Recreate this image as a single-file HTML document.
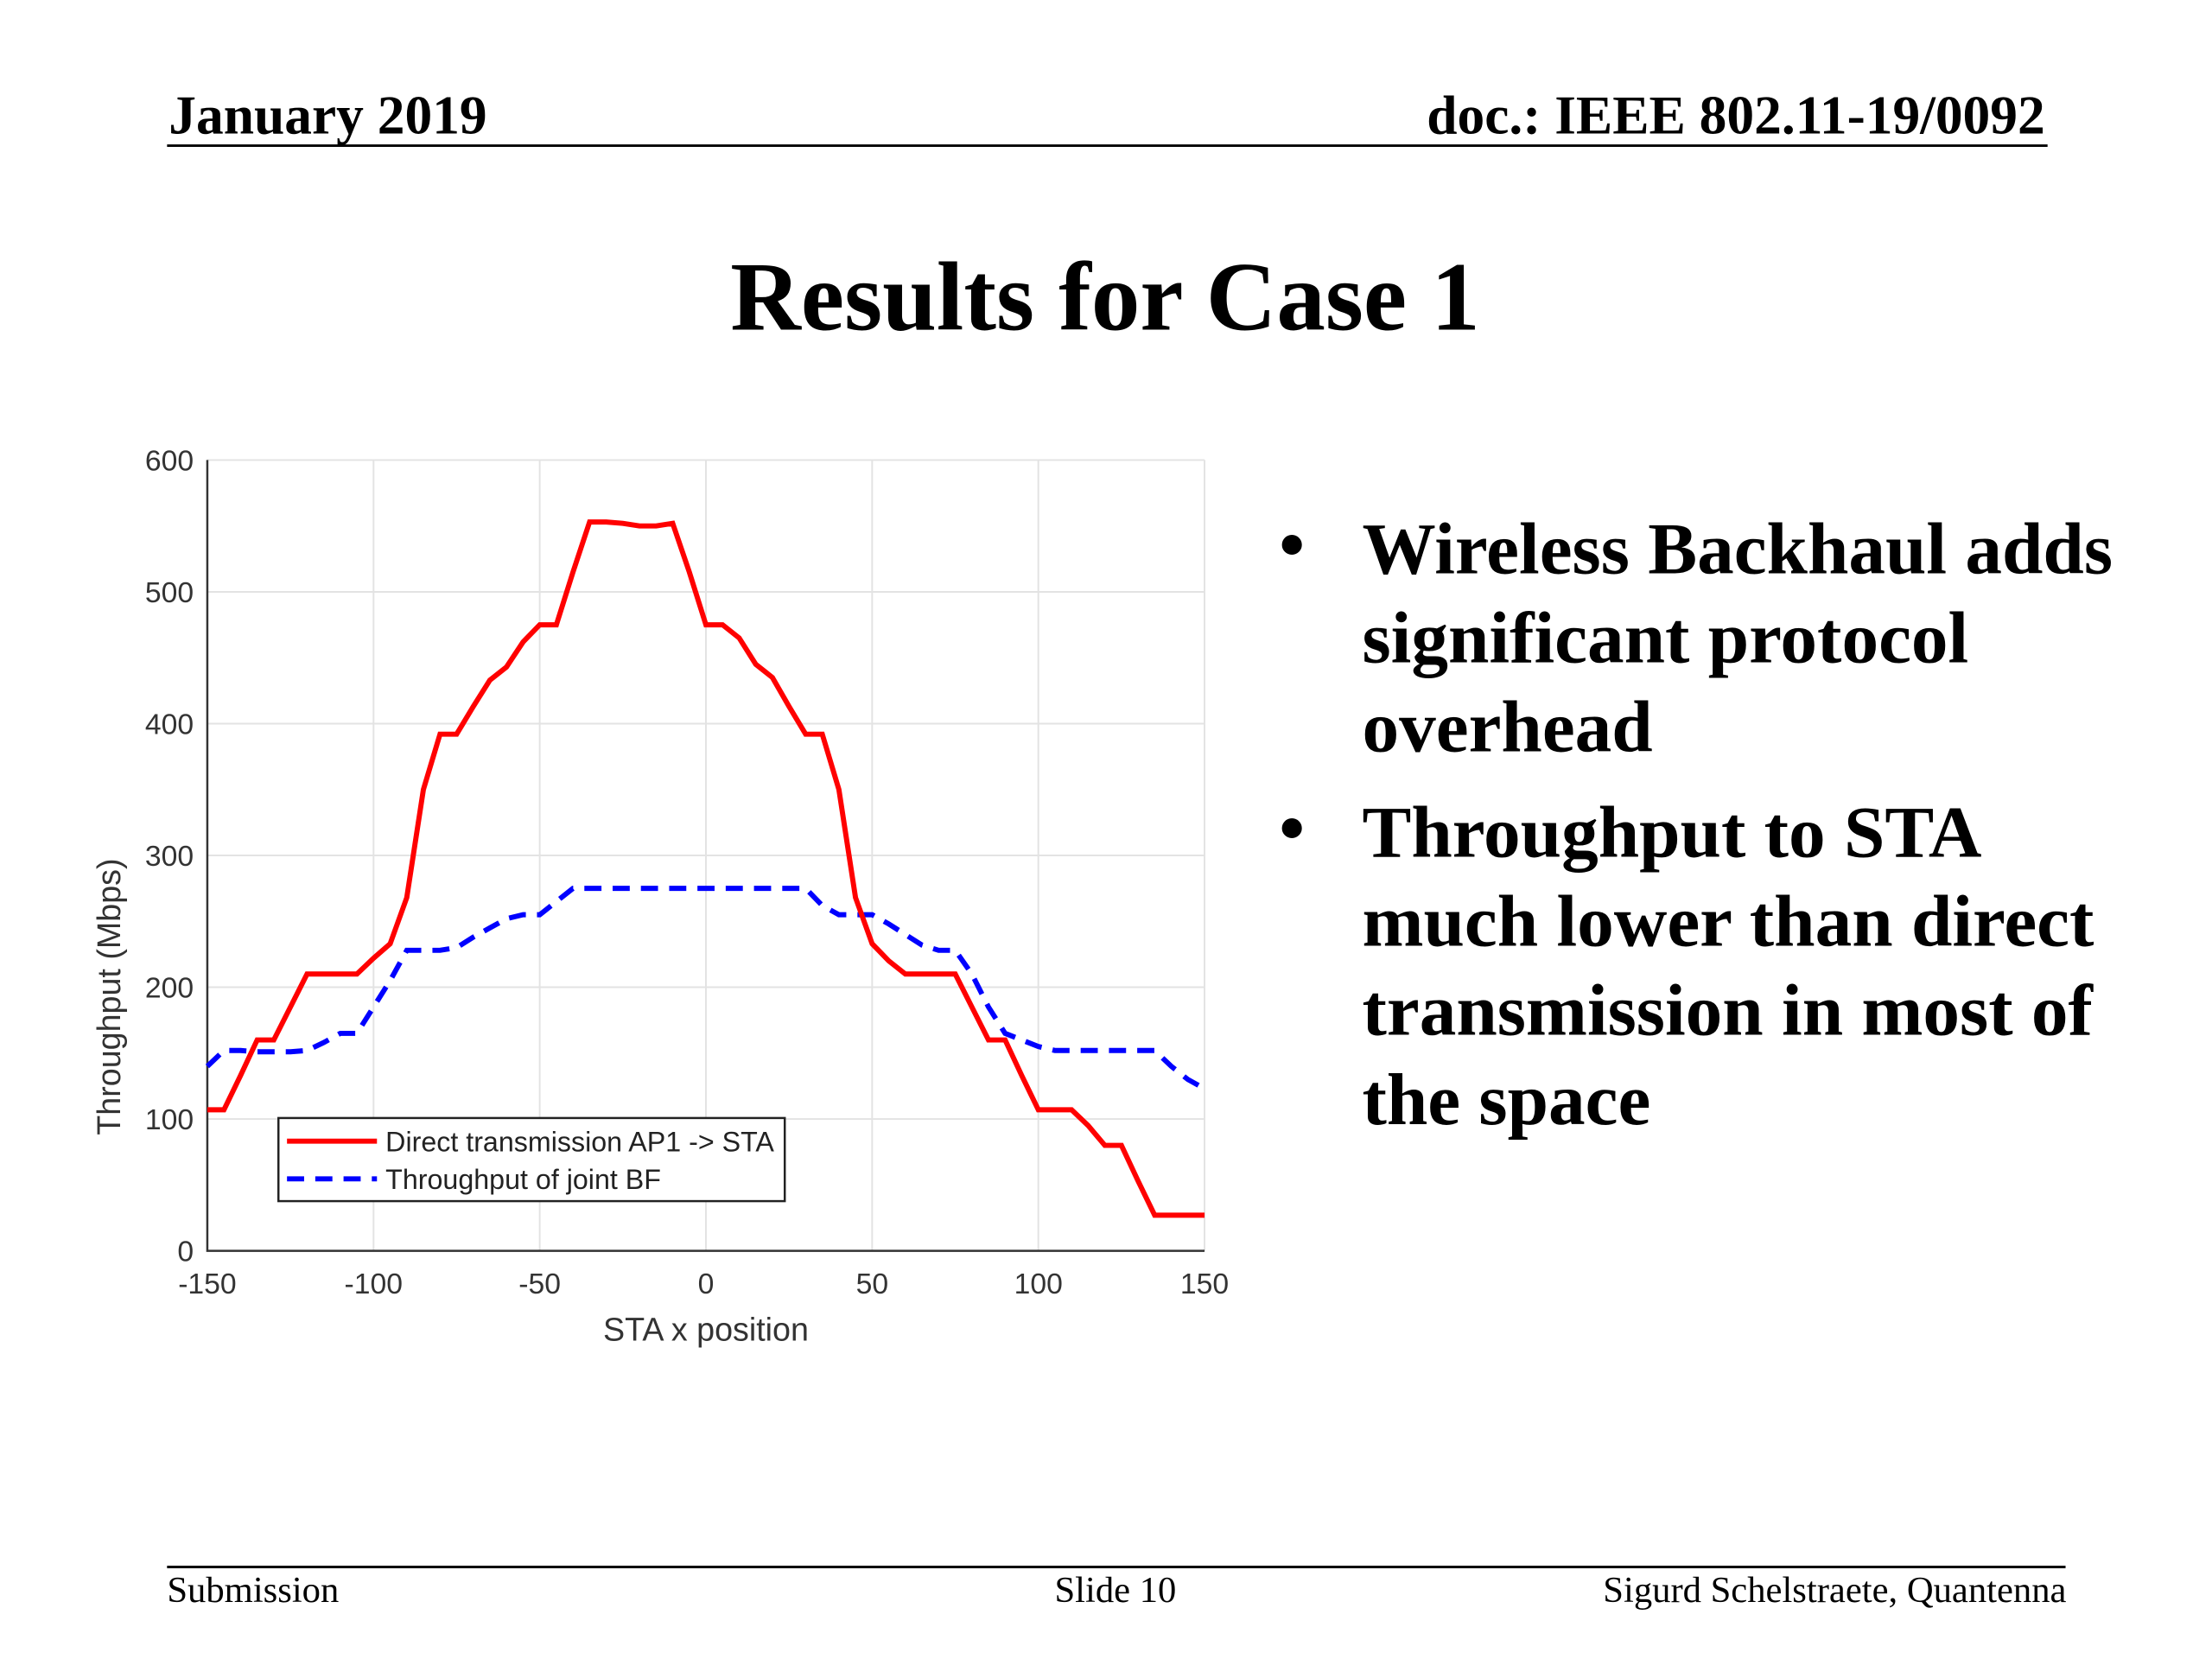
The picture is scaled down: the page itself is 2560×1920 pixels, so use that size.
<!DOCTYPE html>
<html><head><meta charset="utf-8"><style>
body{margin:0;background:#fff;}
svg{display:block;}
</style></head><body>
<svg width="2560" height="1920" viewBox="0 0 2560 1920" xmlns="http://www.w3.org/2000/svg">
<g transform="scale(0.9915)">
<g font-family="Liberation Serif, serif" font-weight="bold" font-size="64">
<text x="197" y="156">January 2019</text>
<text x="2387" y="156" text-anchor="end">doc.: IEEE 802.11-19/0092</text>
<line x1="195" y1="170" x2="2390" y2="170" stroke="#000" stroke-width="3"/>
</g>
<text x="1290" y="385" text-anchor="middle" font-family="Liberation Serif, serif" font-weight="bold" font-size="114">Results for Case 1</text>
<g font-family="Liberation Serif, serif" font-weight="bold" font-size="86">
<text x="1493" y="664">•</text>
<text x="1590" y="669">Wireless Backhaul adds</text>
<text x="1590" y="773">significant protocol</text>
<text x="1590" y="877">overhead</text>
<text x="1493" y="995">•</text>
<text x="1590" y="1000">Throughput to STA</text>
<text x="1590" y="1104">much lower than direct</text>
<text x="1590" y="1208">transmission in most of</text>
<text x="1590" y="1312">the space</text>
</g>
<g font-family="Liberation Serif, serif" font-size="43">
<line x1="195" y1="1829" x2="2411" y2="1829" stroke="#000" stroke-width="3"/>
<text x="195" y="1870">Submission</text>
<text x="1302" y="1870" text-anchor="middle">Slide 10</text>
<text x="2412" y="1870" text-anchor="end">Sigurd Schelstraete, Quantenna</text>
</g>
<g id="chart"></g>
</g>
</svg>
<script>
const xs = [-150,-145,-140,-135,-130,-125,-120,-115,-110,-105,-100,-95,-90,-85,-80,-75,-70,-65,-60,-55,-50,-45,-40,-35,-30,-25,-20,-15,-10,-5,0,5,10,15,20,25,30,35,40,45,50,55,60,65,70,75,80,85,90,95,100,105,110,115,120,125,130,135,140,145,150];
const directVals = [107,107,133,160,160,185,210,210,210,210,222,233,268,350,392,392,413,433,443,462,475,475,515,553,553,552,550,550,552,515,475,475,465,445,435,413,392,392,350,268,233,220,210,210,210,210,185,160,160,133,107,107,107,95,80,80,53,27,27,27,27];
const jointVals = [140,152,152,151,151,151,152,158,165,165,185,205,228,228,228,230,238,245,252,255,255,265,275,275,275,275,275,275,275,275,275,275,275,275,275,275,275,262,255,255,255,248,240,232,228,228,210,185,165,160,155,152,152,152,152,152,152,152,140,130,123];
const xTicks = [-150,-100,-50,0,50,100,150];
const yTicks = [0,100,200,300,400,500,600];
const NS='http://www.w3.org/2000/svg';
const L=242,R=1406,T=537,B=1460;
const sx=v=>L+(v+150)/300*(R-L);
const sy=v=>B-v/600*(B-T);
const g=document.getElementById('chart');
function mk(t,a){const e=document.createElementNS(NS,t);for(const k in a)e.setAttribute(k,a[k]);g.appendChild(e);return e;}
xTicks.forEach(v=>{
 const l=mk('line',{x1:sx(v),x2:sx(v),y1:T,y2:B,stroke:'#e3e3e3','stroke-width':2});
 
 
 const t=mk('text',{x:sx(v),y:B+50,'text-anchor':'middle','font-family':'Liberation Sans, sans-serif','font-size':34,fill:'#333'});
 t.textContent=v;
 
 
});
yTicks.forEach(v=>{
 const l=mk('line',{x1:L,x2:R,y1:sy(v),y2:sy(v),stroke:'#e3e3e3','stroke-width':2});
 
 
 const t=mk('text',{x:L-16,y:sy(v)+12,'text-anchor':'end','font-family':'Liberation Sans, sans-serif','font-size':34,fill:'#333'});
 t.textContent=v;
 
 
});
const ax=mk('path',{d:`M${L},${T}V${B}H${R}`,fill:'none',stroke:'#333','stroke-width':2.5});


const xl=mk('text',{x:(L+R)/2,y:1565,'text-anchor':'middle','font-family':'Liberation Sans, sans-serif','font-size':38,fill:'#333'});
xl.textContent='STA x position';


const yl=mk('text',{x:0,y:0,transform:`translate(140,${(T+B)/2+165}) rotate(-90)`,'text-anchor':'middle','font-family':'Liberation Sans, sans-serif','font-size':38,fill:'#333'});
yl.textContent='Throughput (Mbps)';


const pts=a=>a.map((v,i)=>sx(xs[i])+','+sy(v)).join(' ');
const jl=mk('polyline',{points:pts(jointVals),fill:'none',stroke:'#0000ff','stroke-width':6,'stroke-dasharray':'20,13'});


const dl=mk('polyline',{points:pts(directVals),fill:'none',stroke:'#ff0000','stroke-width':6});


const lb=mk('rect',{x:325,y:1305,width:591,height:97,fill:'#fff',stroke:'#222','stroke-width':2.5});


const l1=mk('line',{x1:335,x2:440,y1:1332,y2:1332,stroke:'#ff0000','stroke-width':6});


const l2=mk('line',{x1:335,x2:440,y1:1376,y2:1376,stroke:'#0000ff','stroke-width':6,'stroke-dasharray':'20,13'});


const t1=mk('text',{x:450,y:1344,'font-family':'Liberation Sans, sans-serif','font-size':32.5,fill:'#222'});
t1.textContent='Direct transmission AP1 -> STA';


const t2=mk('text',{x:450,y:1388,'font-family':'Liberation Sans, sans-serif','font-size':32.5,fill:'#222'});
t2.textContent='Throughput of joint BF';


</script>
</body></html>
